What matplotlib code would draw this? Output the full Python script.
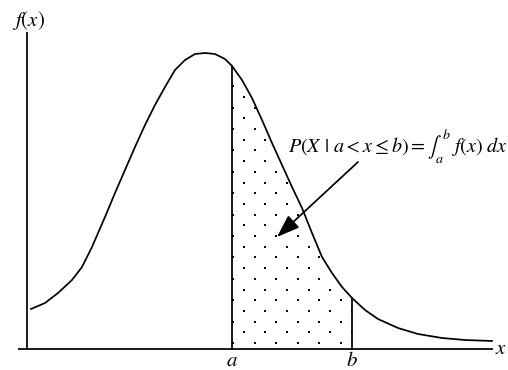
import numpy as np
import matplotlib
matplotlib.use("Agg")
import matplotlib.pyplot as plt

plt.rcParams['mathtext.fontset'] = 'stix'
plt.rcParams['font.family'] = 'STIXGeneral'

curve_x = [4, 18, 31, 45, 55, 65, 78, 88, 98, 108, 118, 128, 138, 148, 158, 168, 178,
           188, 198, 205, 215, 225, 235, 245, 255, 265, 275, 285, 295, 305, 315, 325,
           338, 351, 371, 391, 415, 438, 465]
curve_y = [40, 46, 56, 69, 82, 102, 132, 156, 179, 202, 224, 244, 262, 279, 289, 295, 296,
           295, 290, 283, 269, 251, 229, 206, 184, 162, 141, 116, 92, 76, 62, 51,
           39, 30, 21, 15, 11, 9, 8]
a_val = 205
b_val = 325
prob_label = r'$P(X\ |\ a<x\leq b){=}\int_{a}^{b}{\ }f(x)\ dx$'

cx = np.array(curve_x, dtype=float)
cy = np.array(curve_y, dtype=float)

fig = plt.figure(figsize=(5.08, 3.70), dpi=100)
ax = fig.add_axes([0, 0, 1, 1])
ax.set_xlim(-27, 481)
ax.set_ylim(-21, 349)
ax.axis('off')

lw = 1.25

# axes lines
ax.plot([-9, 466], [0, 0], color='black', lw=lw, solid_capstyle='butt')
ax.plot([0, 0], [0, 317], color='black', lw=lw, solid_capstyle='butt')

ax.plot(cx, cy, color='black', lw=lw, solid_joinstyle='round')

# shaded area between a and b
inside = (cx >= a_val) & (cx <= b_val)
area = ax.fill_between(cx, 0, cy, where=inside, facecolor='none', edgecolor='none')
ya = cy[cx == a_val][0]
yb = cy[cx == b_val][0]
ax.plot([a_val, a_val], [0, ya], color='black', lw=lw)
ax.plot([b_val, b_val], [0, yb], color='black', lw=lw)

# staggered dot pattern, clipped to the area
dx, dy = 21.6, 10.7
px, py = [], []
for r in range(30):
    off = 0 if r % 2 == 0 else dx / 2
    for k in range(8):
        px.append(a_val + 1 + off + k * dx)
        py.append(6 + r * dy)
dots = ax.scatter(px, py, s=4.5, marker='s', color='black', linewidths=0)
dots.set_clip_path(area.get_paths()[0], transform=ax.transData)

# labels
ax.text(1, 329, r'$f(x)$', fontsize=15, ha='center', va='center')
ax.text(474, 0, r'$x$', fontsize=15, ha='center', va='center')
ax.text(a_val, -12, r'$a$', fontsize=15, ha='center', va='center')
ax.text(b_val, -12, r'$b$', fontsize=15, ha='center', va='center')

ax.text(261, 196, prob_label, fontsize=14.5, ha='left', va='baseline')
ax.annotate('', xy=(250, 112), xytext=(331, 187),
            arrowprops=dict(arrowstyle='-|>,head_length=0.7,head_width=0.25',
                            mutation_scale=20, lw=lw, color='black',
                            shrinkA=0, shrinkB=0))

fig.savefig('out.png', dpi=100)
